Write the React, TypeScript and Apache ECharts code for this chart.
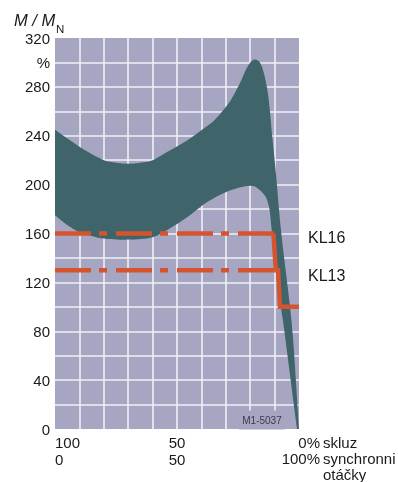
import React, { useEffect, useRef } from 'react';
import * as echarts from 'echarts';

// Torque band (speed % of synchronous, M/MN %)
const upperCurve: [number, number][] = [
  [0, 245], [5, 238], [10, 231], [15, 225], [20, 220], [25, 218], [30, 217], [35, 218],
  [40, 220], [47, 228], [54, 236], [61, 246], [65, 252], [69, 261], [72, 269], [74.5, 278],
  [76.5, 286], [78.5, 295], [80.5, 301], [82, 302.5], [83.5, 301], [84.7, 297], [86, 288],
  [87.3, 274], [88.3, 256], [88.9, 242], [90.6, 208], [92.6, 163], [95.5, 114], [97.5, 76],
  [100, 0],
];
const lowerCurve: [number, number][] = [
  [0, 175], [5, 167], [10, 161], [15, 158], [20, 156], [30, 155], [40, 157], [47, 164],
  [54, 173], [61, 184], [68, 192], [74.5, 197], [80, 199], [83, 197], [86, 191], [87.3, 185],
  [88.1, 177], [88.8, 163], [91.4, 114], [93.4, 89], [99.2, 0],
];
const kl16Dashed: [number, number][] = [[0, 160], [89.7, 160]];
const kl16Tail: [number, number][] = [[89.5, 160], [90.5, 130]];
const kl13Dashed: [number, number][] = [[0, 130], [91.3, 130]];
const kl13Tail: [number, number][] = [[89.8, 130], [91.4, 130], [92.2, 100], [100, 100]];

const xLabels: Record<number, string> = { 0: '100\n0', 50: '50\n50' };
const yTickLabels: Record<number, string> = { 300: '%' };

const BG = '#a6a6c2';
const TEAL = '#3f6469';
const ORANGE = '#d55430';
const GRIDLINE = '#f0f0f7';
const TXT = '#1a1a1a';
const FONT = '"Liberation Sans", Arial, sans-serif';

// Catmull-Rom -> cubic bezier path segments through pixel points
function curveSegments(pts: number[][], moveFirst: boolean): string {
  const f = (n: number) => n.toFixed(2);
  let d = (moveFirst ? 'M' : 'L') + f(pts[0][0]) + ',' + f(pts[0][1]);
  for (let i = 0; i < pts.length - 1; i++) {
    const p0 = pts[Math.max(0, i - 1)];
    const p1 = pts[i];
    const p2 = pts[i + 1];
    const p3 = pts[Math.min(pts.length - 1, i + 2)];
    const c1x = p1[0] + (p2[0] - p0[0]) / 6;
    const c1y = p1[1] + (p2[1] - p0[1]) / 6;
    const c2x = p2[0] - (p3[0] - p1[0]) / 6;
    const c2y = p2[1] - (p3[1] - p1[1]) / 6;
    d += 'C' + f(c1x) + ',' + f(c1y) + ' ' + f(c2x) + ',' + f(c2y) + ' ' + f(p2[0]) + ',' + f(p2[1]);
  }
  return d;
}

export default function App() {
  const ref = useRef<HTMLDivElement>(null);
  useEffect(() => {
    if (!ref.current) return;
    const chart = echarts.init(ref.current, undefined, { renderer: 'svg' });
    chart.setOption({
      animation: false,
      textStyle: { fontFamily: FONT },
      grid: {
        left: 55, top: 38, width: 244, height: 391,
        show: true, backgroundColor: BG, borderWidth: 0,
      },
      xAxis: {
        type: 'value', min: 0, max: 100, interval: 10,
        axisLine: { show: false }, axisTick: { show: false },
        splitLine: {
          show: true, showMinLine: false, showMaxLine: false,
          lineStyle: { color: GRIDLINE, width: 1.6 },
        },
        axisLabel: {
          margin: 5, fontSize: 15, color: TXT, lineHeight: 17, fontFamily: FONT,
          alignMinLabel: 'left',
          formatter: (v: number) => xLabels[v] ?? '',
        },
      },
      yAxis: {
        type: 'value', min: 0, max: 320, interval: 20,
        axisLine: { show: false }, axisTick: { show: false },
        splitLine: {
          show: true, showMinLine: false, showMaxLine: false,
          lineStyle: { color: GRIDLINE, width: 1.6 },
        },
        axisLabel: {
          margin: 5, fontSize: 15, color: TXT, fontFamily: FONT,
          formatter: (v: number) => (yTickLabels[v] ?? (v % 40 === 0 ? String(v) : '')),
        },
      },
      series: [
        {
          type: 'custom',
          data: upperCurve,
          clip: true,
          z: 2,
          renderItem: (params: any, api: any) => {
            if (params.dataIndex !== 0) return null;
            const up = upperCurve.map((p) => api.coord(p));
            const lo = lowerCurve.map((p) => api.coord(p)).reverse();
            const pathData = curveSegments(up, true) + curveSegments(lo, false) + 'Z';
            return {
              type: 'path',
              shape: { pathData },
              style: { fill: TEAL },
            };
          },
        },
        {
          type: 'line', data: kl16Dashed, symbol: 'none', z: 5,
          lineStyle: { color: ORANGE, width: 4.5, type: [36, 8, 8, 9], cap: 'butt' },
        },
        {
          type: 'line', data: kl16Tail, symbol: 'none', z: 5,
          lineStyle: { color: ORANGE, width: 4.5, cap: 'butt' },
        },
        {
          type: 'line', data: kl13Dashed, symbol: 'none', z: 5,
          lineStyle: { color: ORANGE, width: 4.5, type: [36, 8, 8, 9], cap: 'butt' },
        },
        {
          type: 'line', data: kl13Tail, symbol: 'none', z: 5,
          lineStyle: { color: ORANGE, width: 4.5, cap: 'butt', join: 'miter' },
        },
      ],
      graphic: [
        {
          type: 'text', x: 14, y: 11, z: 10,
          style: { text: 'M / M', fontSize: 16.5, fontStyle: 'italic', fontFamily: FONT, fill: TXT, textVerticalAlign: 'top' },
        },
        {
          type: 'text', x: 56, y: 23, z: 10,
          style: { text: 'N', fontSize: 11.5, fontFamily: FONT, fill: TXT, textVerticalAlign: 'top' },
        },
        {
          type: 'text', x: 308, y: 237, z: 10,
          style: { text: 'KL16', fontSize: 16, fontFamily: FONT, fill: TXT, textVerticalAlign: 'middle' },
        },
        {
          type: 'text', x: 308, y: 275, z: 10,
          style: { text: 'KL13', fontSize: 16, fontFamily: FONT, fill: TXT, textVerticalAlign: 'middle' },
        },
        {
          type: 'text', x: 320, y: 434, z: 10,
          style: { text: '0%\n100%', fontSize: 15, lineHeight: 16, fontFamily: FONT, fill: TXT, textAlign: 'right', textVerticalAlign: 'top' },
        },
        {
          type: 'text', x: 323, y: 434, z: 10,
          style: { text: 'skluz\nsynchronni\notáčky', fontSize: 15, lineHeight: 16, fontFamily: FONT, fill: TXT, textAlign: 'left', textVerticalAlign: 'top' },
        },
        {
          type: 'text', x: 262, y: 420, z: 10,
          style: {
            text: 'M1-5037', fontSize: 10, fontFamily: FONT, fill: '#3a3a52',
            textAlign: 'center', textVerticalAlign: 'middle',
            backgroundColor: BG, padding: [3, 3, 6, 3],
          },
        },
      ],
    });
    return () => chart.dispose();
  }, []);
  return <div ref={ref} style={{ position: 'fixed', left: 0, top: 0, width: 398, height: 482 }} />;
}
